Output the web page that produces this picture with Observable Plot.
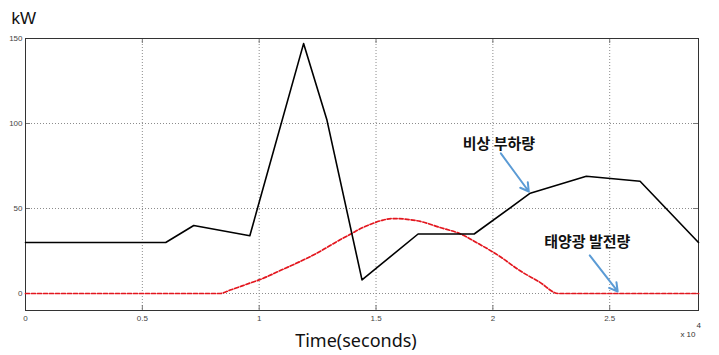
<!DOCTYPE html>
<html>
<head>
<meta charset="utf-8">
<script src="https://cdn.jsdelivr.net/npm/d3@7"></script>
<script src="https://cdn.jsdelivr.net/npm/@observablehq/plot@0.6"></script>
<style>
  html, body { margin: 0; padding: 0; background: #fff; }
</style>
</head>
<body>
<div id="chart"></div>
<script>
// Emergency load (black solid)
const loadTime = [0, 6000, 7200, 9600, 11900, 12900, 14400, 16800, 19200, 21600, 24000, 26300, 28800];
const loadKW   = [30, 30, 40, 34, 147, 102, 8, 35, 35, 59, 69, 66, 30];
// PV generation (red dashed)
const pvTime = [0, 8300, 8800, 9600, 10000, 10900, 11750, 12600, 13460, 13900, 14300, 14800, 15300, 15700, 16200, 16900, 17700, 18600, 19400, 20300, 21150, 22000, 22800, 28800];
const pvKW   = [0, 0, 2.2, 6.1, 8, 13.5, 18.8, 24.7, 31.6, 34.8, 37.9, 40.9, 43.2, 44.1, 43.8, 42.4, 39, 35.1, 29.2, 21.8, 13.5, 6.7, 0, 0];
// Axis ticks
const xTicks = [0, 5000, 10000, 15000, 20000, 25000];
const xTickLabels = ["0", "0.5", "1", "1.5", "2", "2.5"];
const yTicks = [0, 50, 100, 150];
const yTickLabels = ["0", "50", "100", "150"];
// Annotations
const noteLabels = ["비상 부하량", "태양광 발전량"];
const noteX = [20256, 24040];
const noteY = [87.6, 30];
const arrowX1 = [20342, 24145];
const arrowY1 = [82.4, 22.4];
const arrowX2 = [21538, 25342];
const arrowY2 = [60, 1.2];

const loadData = loadTime.map((t, i) => ({t, v: loadKW[i]}));
const pvData = pvTime.map((t, i) => ({t, v: pvKW[i]}));
const notes = noteLabels.map((s, i) => ({s, x: noteX[i], y: noteY[i]}));
const arrows = arrowX1.map((x1, i) => ({x1, y1: arrowY1[i], x2: arrowX2[i], y2: arrowY2[i]}));

const W = 719, H = 355, mL = 25, mR = 21, mT = 38, mB = 45;
const fw = W - mL - mR, fh = H - mT - mB;

const chart = Plot.plot({
  width: W, height: H,
  marginLeft: mL, marginRight: mR, marginTop: mT, marginBottom: mB,
  style: {fontFamily: "Liberation Sans, Arial, sans-serif", background: "#fff"},
  x: {domain: [0, 28800]},
  y: {domain: [-10, 150]},
  marks: [
    Plot.gridX(xTicks, {stroke: "#8c8c8c", strokeOpacity: 1, strokeDasharray: "1,2"}),
    Plot.gridY(yTicks, {stroke: "#8c8c8c", strokeOpacity: 1, strokeDasharray: "1,2"}),
    // inward tick marks
    Plot.tickX(xTicks, {x: d => d, insetTop: fh - 5, stroke: "#777"}),
    Plot.tickX(xTicks, {x: d => d, insetBottom: fh - 5, stroke: "#777"}),
    Plot.tickY(yTicks, {y: d => d, insetRight: fw - 5, stroke: "#777"}),
    Plot.tickY(yTicks, {y: d => d, insetLeft: fw - 5, stroke: "#777"}),
    Plot.axisX(xTicks, {tickSize: 0, tickPadding: 5, fontSize: 8, fill: "#444", label: null,
      tickFormat: d => xTickLabels[xTicks.indexOf(d)]}),
    Plot.axisY(yTicks, {tickSize: 0, tickPadding: 3, fontSize: 8, fill: "#444", label: null,
      tickFormat: d => yTickLabels[yTicks.indexOf(d)]}),
    Plot.frame({stroke: "#333", strokeWidth: 1}),
    Plot.line(pvData, {x: "t", y: "v", stroke: "#e3161e", strokeWidth: 1.7, strokeDasharray: "4,2", curve: "monotone-x"}),
    Plot.line(loadData, {x: "t", y: "v", stroke: "#000", strokeWidth: 1.6}),
    Plot.arrow(arrows, {x1: "x1", y1: "y1", x2: "x2", y2: "y2", stroke: "#5b9bd5", strokeWidth: 2, headLength: 7}),
    Plot.text(notes, {x: "x", y: "y", text: "s", fontSize: 15, fontWeight: "bold",
      fontFamily: "Noto Sans CJK KR", fill: "#111"}),
    Plot.text(["kW"], {frameAnchor: "top-left", dx: -14, dy: -14.5, textAnchor: "start", lineAnchor: "bottom",
      fontSize: 17, fill: "#111"}),
    Plot.text(["Time(seconds)"], {frameAnchor: "bottom", dx: -6, dy: 36, lineAnchor: "bottom",
      fontSize: 18, fill: "#111", fontFamily: "Noto Sans, sans-serif"}),
    Plot.text(["x 10"], {frameAnchor: "bottom-right", dx: -3, dy: 26, textAnchor: "end", lineAnchor: "bottom",
      fontSize: 8, fill: "#333"}),
    Plot.text(["4"], {frameAnchor: "bottom-right", dx: -2, dy: 17, textAnchor: "start", lineAnchor: "bottom",
      fontSize: 8, fill: "#333"})
  ]
});
document.getElementById("chart").appendChild(chart);
</script>
</body>
</html>
